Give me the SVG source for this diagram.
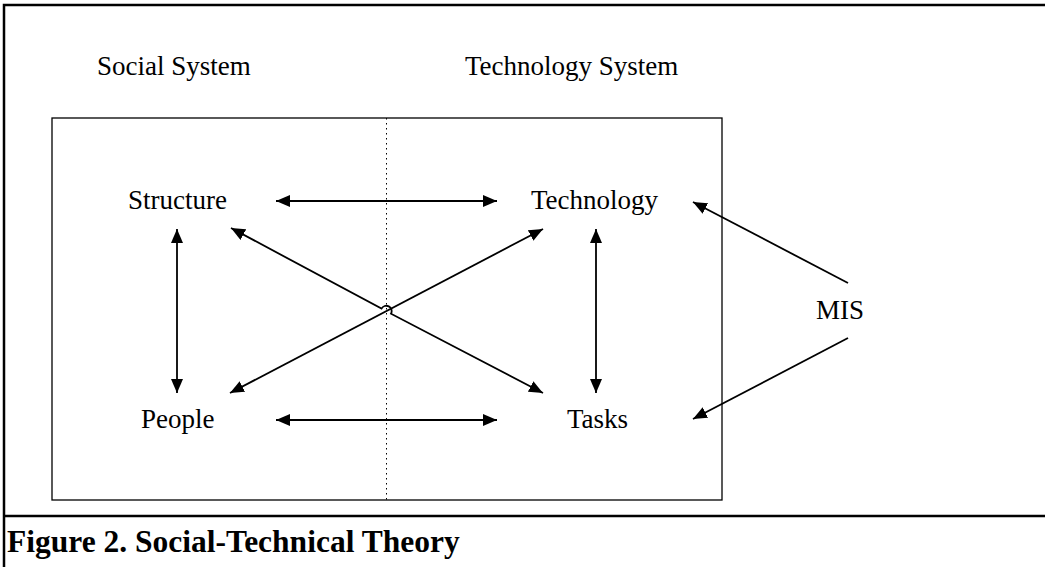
<svg xmlns="http://www.w3.org/2000/svg" width="1045" height="567" viewBox="0 0 1045 567">
<style>
.t{font-family:"Liberation Serif","Times New Roman",serif;font-size:27px;fill:#000}
.cap{font-family:"Liberation Serif","Times New Roman",serif;font-size:31.5px;font-weight:bold;fill:#000}
.ln{stroke:#000;stroke-width:1.8;fill:none}
</style>
<defs>
<marker id="ah" markerUnits="userSpaceOnUse" markerWidth="14" markerHeight="12" refX="14" refY="6" orient="auto-start-reverse" viewBox="0 0 14 12">
<path d="M0,0 L14,6 L0,12 Z" fill="#000"/>
</marker>
</defs>
<rect width="1045" height="567" fill="#fff"/>
<g id="frame">
<path d="M4,567 V5 H1045" stroke="#000" stroke-width="2.5" fill="none"/>
<line x1="4" y1="516" x2="1045" y2="516" stroke="#000" stroke-width="2.5"/>
<rect x="52" y="118" width="670" height="382" fill="none" stroke="#000" stroke-width="1.3"/>
<line x1="386.5" y1="118" x2="386.5" y2="500" stroke="#000" stroke-width="1" stroke-dasharray="1.5,3.5"/>
</g>
<g id="headers">
<text class="t" x="97" y="75">Social System</text>
<text class="t" x="465" y="75">Technology System</text>
</g>
<g id="node-structure"><text class="t" x="128" y="209">Structure</text></g>
<g id="node-technology"><text class="t" x="531" y="209">Technology</text></g>
<g id="node-people"><text class="t" x="141" y="428">People</text></g>
<g id="node-tasks"><text class="t" x="567" y="428">Tasks</text></g>
<g id="node-mis"><text class="t" x="816" y="319">MIS</text></g>
<g id="connectors">
<line class="ln" x1="276" y1="201" x2="497" y2="201" marker-start="url(#ah)" marker-end="url(#ah)"/>
<line class="ln" x1="276" y1="420" x2="497" y2="420" marker-start="url(#ah)" marker-end="url(#ah)"/>
<line class="ln" x1="177" y1="229" x2="177" y2="393" marker-start="url(#ah)" marker-end="url(#ah)"/>
<line class="ln" x1="596" y1="229" x2="596" y2="393" marker-start="url(#ah)" marker-end="url(#ah)"/>
<path class="ln" d="M231,228 L381.5,308.6 A5,5 0 0 1 391,313.7 L543,393" marker-start="url(#ah)" marker-end="url(#ah)"/>
<line class="ln" x1="230" y1="393" x2="543" y2="229" marker-start="url(#ah)" marker-end="url(#ah)"/>
<line class="ln" x1="848" y1="283" x2="693" y2="202" marker-end="url(#ah)"/>
<line class="ln" x1="848" y1="338" x2="693" y2="419" marker-end="url(#ah)"/>
</g>
<g id="caption"><text class="cap" x="7" y="552">Figure 2. Social-Technical Theory</text></g>
</svg>
